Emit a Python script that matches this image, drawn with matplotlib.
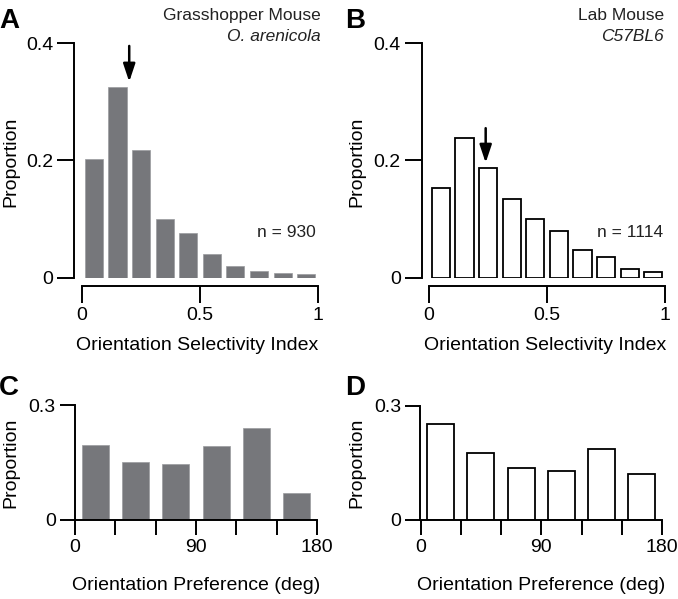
import matplotlib
matplotlib.use('Agg')
import matplotlib.pyplot as plt

plt.rcParams['font.family'] = ['Liberation Sans', 'DejaVu Sans']

# Data
# ------------------------------------------------------------------------------------------
osi_centers = [0.05, 0.15, 0.25, 0.35, 0.45, 0.55, 0.65, 0.75, 0.85, 0.95]
osi_grasshopper = [0.203, 0.325, 0.218, 0.100, 0.077, 0.040, 0.020, 0.0125, 0.009, 0.006]
osi_lab = [0.154, 0.239, 0.188, 0.135, 0.100, 0.080, 0.048, 0.036, 0.015, 0.011]
osi_median_grasshopper = 0.2
osi_median_lab = 0.24

pref_centers = [15, 45, 75, 105, 135, 165]
pref_grasshopper = [0.195, 0.151, 0.147, 0.193, 0.240, 0.070]
pref_lab = [0.252, 0.177, 0.138, 0.129, 0.187, 0.121]

n_grasshopper = 930
n_lab = 1114

# Layout helpers
# ------------------------------------------------------------------------------------------
W, H = 678, 599
FS = 14
GREY = '#76777b'
LW = 1.4


def rect(l, t, r, b):
    return [l / W, 1 - b / H, (r - l) / W, (b - t) / H]


def ftext(x, y, s, **kw):
    fig.text(x / W, 1 - y / H, s, **kw)


fig = plt.figure(figsize=(W / 100, H / 100), dpi=100)


def osi_panel(r, xmin, vals, filled, median, tip, top):
    ax = fig.add_axes(r)
    if filled:
        ax.bar(osi_centers, vals, width=0.077, color=GREY, edgecolor='#9a9b9e', linewidth=0.5)
    else:
        ax.bar(osi_centers, vals, width=0.077, facecolor='white', edgecolor='black', linewidth=1.3)
    ax.set_xlim(xmin, 1.0)
    ax.set_ylim(0, 0.4)
    for s in ['top', 'right']:
        ax.spines[s].set_visible(False)
    ax.spines['left'].set_linewidth(LW)
    ax.spines['bottom'].set_linewidth(LW)
    ax.spines['bottom'].set_position(('outward', 6.1))
    ax.spines['bottom'].set_bounds(0, 1)
    ax.set_xticks([0, 0.5, 1])
    ax.set_xticklabels(['0', '0.5', '1'])
    ax.set_yticks([0, 0.2, 0.4])
    ax.set_yticklabels(['0', '0.2', '0.4'])
    ax.tick_params(direction='out', length=12, width=LW, labelsize=FS, pad=3)
    ax.annotate('', xy=(median, tip), xytext=(median, top),
                arrowprops=dict(arrowstyle='-|>,head_length=0.9,head_width=0.3',
                                mutation_scale=12, lw=1.8, color='black',
                                shrinkA=0, shrinkB=0))
    return ax


def pref_panel(r, vals, filled):
    ax = fig.add_axes(r)
    if filled:
        ax.bar(pref_centers, vals, width=20, color=GREY, edgecolor='#9a9b9e', linewidth=0.5)
    else:
        ax.bar(pref_centers, vals, width=20, facecolor='white', edgecolor='black', linewidth=1.3)
    ax.set_xlim(-0.4, 180)
    ax.set_ylim(0, 0.3)
    for s in ['top', 'right']:
        ax.spines[s].set_visible(False)
    ax.spines['left'].set_linewidth(LW)
    ax.spines['bottom'].set_linewidth(LW)
    ax.spines['bottom'].set_bounds(0, 180)
    ax.set_xticks([0, 30, 60, 90, 120, 150, 180])
    ax.set_xticklabels(['0', '', '', '90', '', '', '180'])
    ax.set_yticks([0, 0.3])
    ax.set_yticklabels(['0', '0.3'])
    ax.tick_params(direction='out', length=10.5, width=LW, labelsize=FS, pad=3)
    return ax


# Panels
# ------------------------------------------------------------------------------------------
axA = osi_panel(rect(74, 43, 318, 278), -0.034, osi_grasshopper, True,
                osi_median_grasshopper, 0.334, 0.395)
axB = osi_panel(rect(421.5, 43, 665, 278), -0.032, osi_lab, False,
                osi_median_lab, 0.196, 0.255)
axC = pref_panel(rect(74.5, 405, 317, 520), pref_grasshopper, True)
axD = pref_panel(rect(420, 406, 662, 520), pref_lab, False)

# Text
# ------------------------------------------------------------------------------------------
for x in [10.5, 357]:
    ftext(x, 162, 'Proportion', rotation=90, ha='center', va='center', fontsize=FS)
for x in [10.5, 357]:
    ftext(x, 463, 'Proportion', rotation=90, ha='center', va='center', fontsize=FS)

ftext(197, 346, 'Orientation Selectivity Index', ha='center', va='center', fontsize=FS)
ftext(545.5, 346, 'Orientation Selectivity Index', ha='center', va='center', fontsize=FS)
ftext(196, 585, 'Orientation Preference (deg)', ha='center', va='center', fontsize=FS)
ftext(541, 585, 'Orientation Preference (deg)', ha='center', va='center', fontsize=FS)

for x, y, s in [(-1, 28, 'A'), (345, 28, 'B'), (-1, 395, 'C'), (345, 395, 'D')]:
    ftext(x, y, s, fontsize=20, fontweight='bold', va='baseline',
          family=['Liberation Sans', 'DejaVu Sans'])

ftext(321, 20, 'Grasshopper Mouse', ha='right', va='baseline', fontsize=12.5, color='#222222')
ftext(321, 41, 'O. arenicola', ha='right', va='baseline', fontsize=12.5, style='italic', color='#222222')
ftext(664, 20, 'Lab Mouse', ha='right', va='baseline', fontsize=12.5, color='#222222')
ftext(664, 41, 'C57BL6', ha='right', va='baseline', fontsize=12.5, style='italic', color='#222222')

ftext(316, 237, 'n = %d' % n_grasshopper, ha='right', va='baseline', fontsize=12.5, color='#222222')
ftext(663, 237, 'n = %d' % n_lab, ha='right', va='baseline', fontsize=12.5, color='#222222')

plt.savefig('out.png', dpi=100)
plt.close(fig)
